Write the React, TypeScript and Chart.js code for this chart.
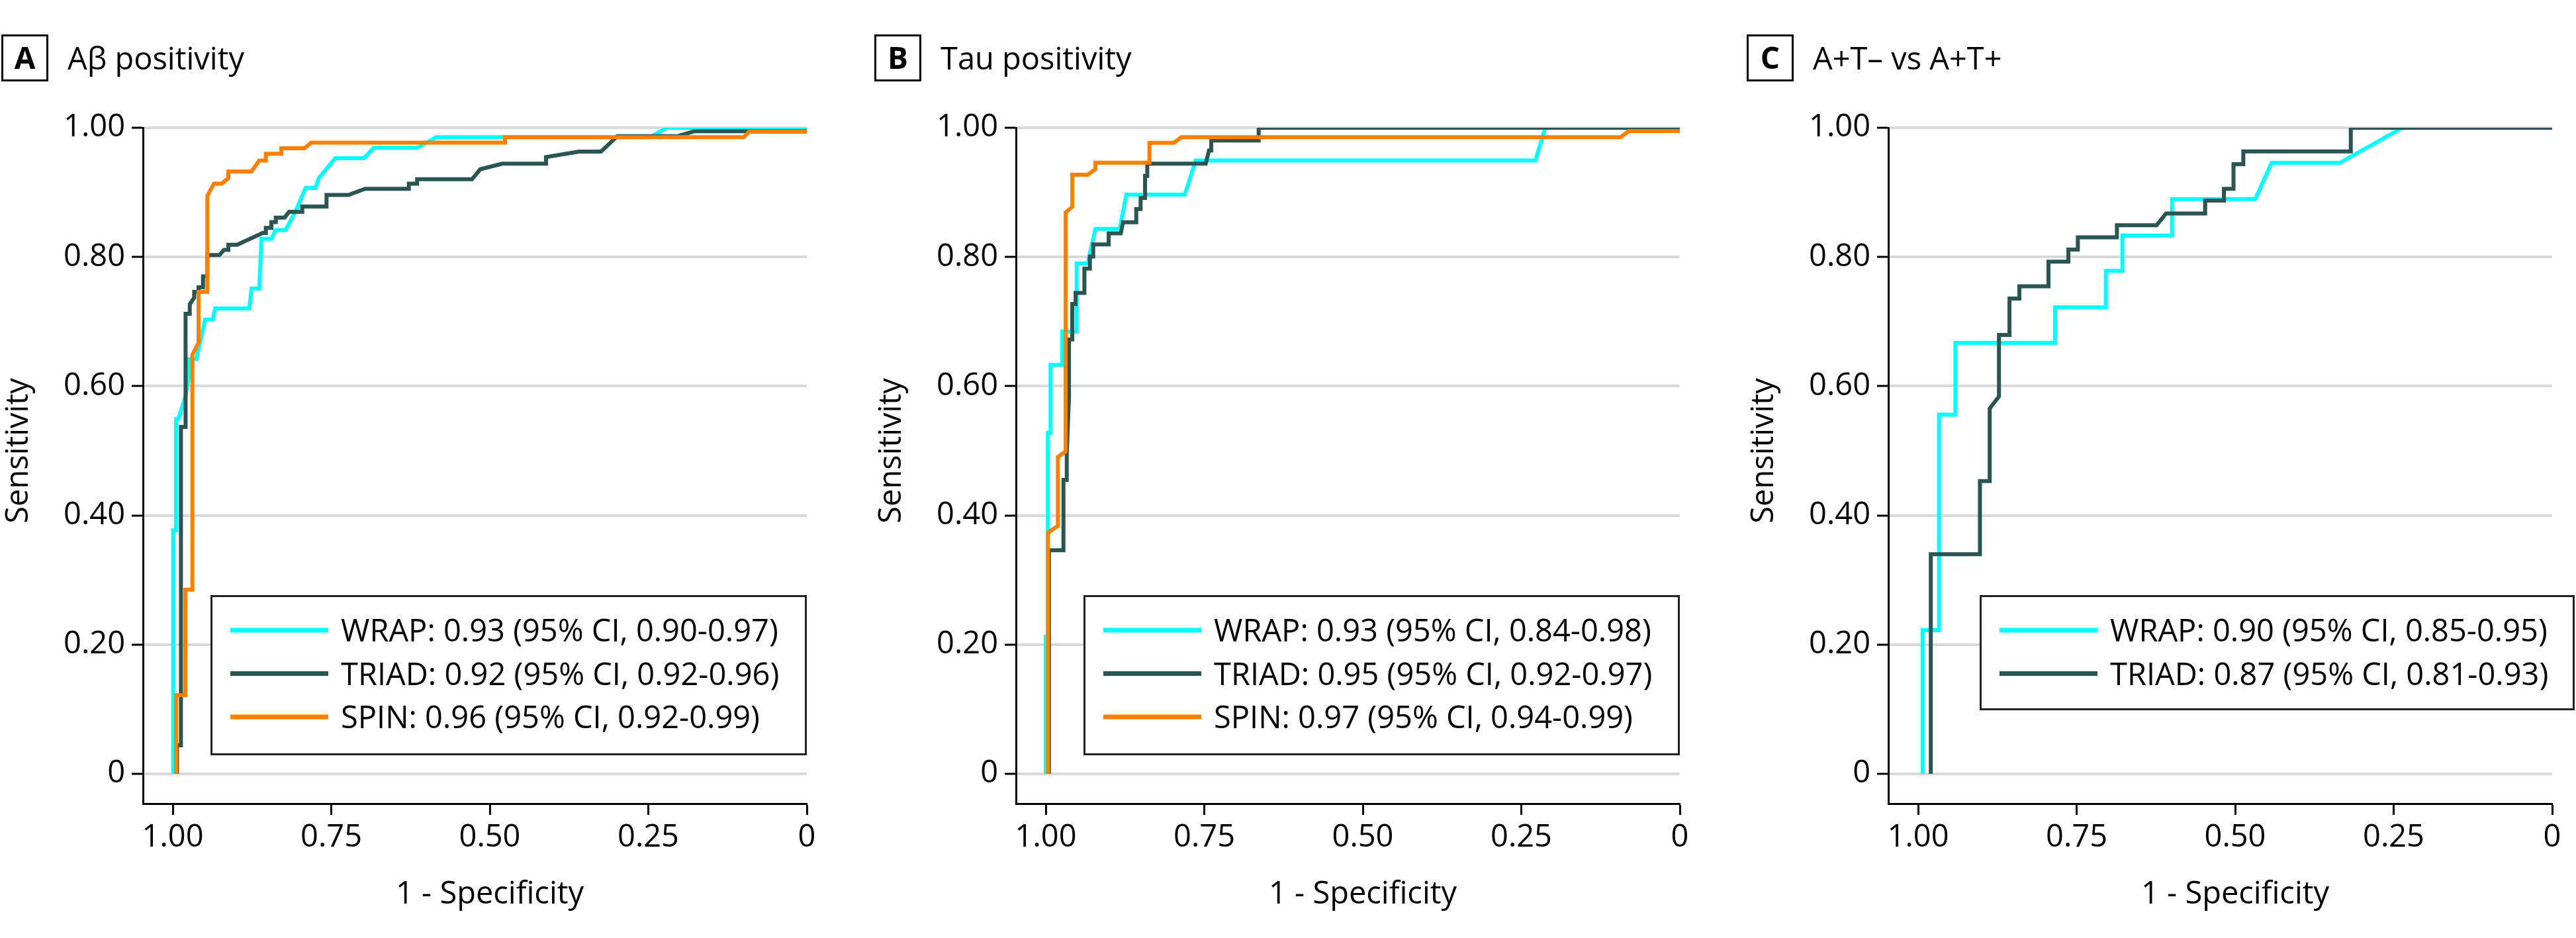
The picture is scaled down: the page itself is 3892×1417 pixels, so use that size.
import React, { useEffect, useRef } from 'react';
import { Chart, registerables } from 'chart.js';

Chart.register(...registerables);

// ---------------- data ----------------
const xTickValues = [1, 0.75, 0.5, 0.25, 0];
const yTickValues = [0, 0.2, 0.4, 0.6, 0.8, 1];
const xAxisTitle = '1 - Specificity';
const yAxisTitle = 'Sensitivity';

const panelLetters = ['A', 'B', 'C'];
const panelTitles = ['A\u03b2 positivity', 'Tau positivity', 'A+T\u2013 vs A+T+'];

const seriesNames = ['WRAP', 'TRIAD', 'SPIN'];
const seriesColors = ['#00FFFF', '#2A5553', '#FF8000'];

// Panel A – Aβ positivity
const wrapA_spec = [0.9993, 0.9993, 0.9948, 0.9948, 0.9913, 0.9802, 0.9739, 0.9739, 0.9628, 0.9489, 0.9367, 0.9332, 0.8793, 0.8758, 0.8636, 0.8601, 0.8445, 0.8375, 0.8219, 0.8062, 0.7905, 0.7749, 0.7697, 0.7436, 0.6983, 0.6827, 0.6146, 0.5843, 0.2468, 0.2208, 0];
const wrapA_sens = [0, 0.377, 0.377, 0.549, 0.549, 0.583, 0.62, 0.642, 0.642, 0.7032, 0.7032, 0.7203, 0.7203, 0.7511, 0.7511, 0.828, 0.828, 0.8417, 0.8417, 0.8708, 0.9067, 0.9067, 0.9221, 0.9528, 0.9528, 0.969, 0.969, 0.9853, 0.9853, 1.0, 1.0];
const triadA_spec = [0.9934, 0.9934, 0.9871, 0.9871, 0.9798, 0.9798, 0.9732, 0.9732, 0.9662, 0.9662, 0.9593, 0.9593, 0.9523, 0.9523, 0.9454, 0.9454, 0.9263, 0.9193, 0.9123, 0.9123, 0.8984, 0.8584, 0.8532, 0.8532, 0.8445, 0.8445, 0.8375, 0.8375, 0.8236, 0.8166, 0.7958, 0.7958, 0.7575, 0.7575, 0.7228, 0.6968, 0.6277, 0.6277, 0.6146, 0.6146, 0.528, 0.5151, 0.4805, 0.4113, 0.4113, 0.3593, 0.3246, 0.2988, 0.2035, 0.1775, 0];
const triadA_sens = [0, 0.044, 0.044, 0.537, 0.537, 0.712, 0.712, 0.727, 0.737, 0.746, 0.746, 0.753, 0.753, 0.77, 0.77, 0.803, 0.803, 0.811, 0.811, 0.819, 0.819, 0.837, 0.837, 0.845, 0.845, 0.854, 0.854, 0.861, 0.861, 0.87, 0.87, 0.878, 0.878, 0.896, 0.896, 0.9056, 0.9056, 0.9135, 0.9135, 0.9203, 0.9203, 0.9357, 0.9443, 0.9443, 0.9545, 0.9631, 0.9631, 0.987, 0.987, 0.9945, 0.9945];
const spinA_spec = [0.9948, 0.9948, 0.9802, 0.9802, 0.969, 0.969, 0.9593, 0.9593, 0.9454, 0.9454, 0.935, 0.9228, 0.9123, 0.9123, 0.8758, 0.8636, 0.8532, 0.8532, 0.8288, 0.8288, 0.7923, 0.7818, 0.4761, 0.4761, 0.0997, 0.091, 0];
const spinA_sens = [0, 0.1216, 0.1216, 0.2851, 0.2851, 0.6486, 0.6674, 0.746, 0.746, 0.8947, 0.9135, 0.9135, 0.9221, 0.9323, 0.9323, 0.9494, 0.9494, 0.9597, 0.9597, 0.9682, 0.9682, 0.977, 0.977, 0.9853, 0.9853, 0.9938, 0.9938];
const legendA = ['WRAP: 0.93 (95% CI, 0.90-0.97)', 'TRIAD: 0.92 (95% CI, 0.92-0.96)', 'SPIN: 0.96 (95% CI, 0.92-0.99)'];

// Panel B – Tau positivity
const wrapB_spec = [1.0, 1.0, 0.9966, 0.9966, 0.9924, 0.9924, 0.9739, 0.9739, 0.9513, 0.9513, 0.9339, 0.9217, 0.8834, 0.873, 0.7808, 0.7634, 0.2277, 0.2121, 0];
const wrapB_sens = [0, 0.212, 0.212, 0.528, 0.528, 0.633, 0.633, 0.6845, 0.6845, 0.79, 0.79, 0.8434, 0.8434, 0.8964, 0.8964, 0.9494, 0.9494, 1.0, 1.0];
const triadB_spec = [0.995, 0.995, 0.9721, 0.9721, 0.9669, 0.9669, 0.9634, 0.9634, 0.9582, 0.9582, 0.953, 0.953, 0.9391, 0.9391, 0.9304, 0.9304, 0.9252, 0.9252, 0.9008, 0.9008, 0.8817, 0.8782, 0.8573, 0.8573, 0.8504, 0.8504, 0.8434, 0.8434, 0.8399, 0.8399, 0.7477, 0.7425, 0.739, 0.739, 0.6642, 0.6642, 0];
const triadB_sens = [0, 0.346, 0.346, 0.455, 0.455, 0.495, 0.583, 0.6725, 0.6725, 0.7272, 0.7272, 0.7443, 0.7443, 0.7819, 0.7819, 0.8007, 0.8007, 0.8195, 0.8195, 0.8366, 0.8366, 0.8537, 0.8537, 0.8742, 0.8742, 0.8913, 0.8913, 0.9255, 0.9255, 0.9443, 0.9443, 0.9648, 0.9648, 0.9802, 0.9802, 1.0, 1.0];
const spinB_spec = [0.9965, 0.9965, 0.9809, 0.9809, 0.9687, 0.9687, 0.9582, 0.9582, 0.9339, 0.9217, 0.9217, 0.8365, 0.8365, 0.7982, 0.786, 0.0935, 0.0805, 0];
const spinB_sens = [0, 0.3733, 0.3836, 0.4905, 0.4989, 0.869, 0.8776, 0.9272, 0.9272, 0.9357, 0.946, 0.946, 0.9768, 0.9768, 0.9853, 0.9853, 0.9948, 0.9948];
const legendB = ['WRAP: 0.93 (95% CI, 0.84-0.98)', 'TRIAD: 0.95 (95% CI, 0.92-0.97)', 'SPIN: 0.97 (95% CI, 0.94-0.99)'];

// Panel C – A+T– vs A+T+
const wrapC_spec = [0.9928, 0.9928, 0.967, 0.967, 0.9412, 0.9412, 0.7839, 0.7839, 0.7039, 0.7039, 0.6778, 0.6778, 0.5995, 0.5995, 0.4682, 0.4424, 0.3349, 0.2359, 0];
const wrapC_sens = [0, 0.2223, 0.2223, 0.5559, 0.5559, 0.6671, 0.6671, 0.7221, 0.7221, 0.7785, 0.7785, 0.8332, 0.8332, 0.8896, 0.8896, 0.9457, 0.9457, 1.0, 1.0];
const triadC_spec = [0.98, 0.98, 0.9025, 0.9025, 0.8871, 0.8871, 0.8725, 0.8725, 0.8559, 0.8559, 0.8403, 0.8403, 0.7944, 0.7944, 0.763, 0.763, 0.7481, 0.7481, 0.6865, 0.6865, 0.6239, 0.6089, 0.5473, 0.5473, 0.5177, 0.5177, 0.5026, 0.5026, 0.4871, 0.4871, 0.3176, 0.3176, 0];
const triadC_sens = [0, 0.34, 0.34, 0.4531, 0.4531, 0.5656, 0.584, 0.6793, 0.6793, 0.7357, 0.7357, 0.7545, 0.7545, 0.7928, 0.7928, 0.8116, 0.8116, 0.8304, 0.8304, 0.8492, 0.8492, 0.8674, 0.8674, 0.8872, 0.8872, 0.9056, 0.9056, 0.9437, 0.9437, 0.9634, 0.9634, 1.0, 1.0];
const legendC = ['WRAP: 0.90 (95% CI, 0.85-0.95)', 'TRIAD: 0.87 (95% CI, 0.81-0.93)'];

// ---------------- layout / style ----------------
const FONT = "'Open Sans', 'Noto Sans', sans-serif";
const FS = 47;
const CANVAS_H = 1417;
const CANVAS_W = 1255;
const PANEL_LEFT = [0, 1319, 2637];
const AREA_LEFT = 216;
const AREA_RIGHT = 1219;
const AREA_TOP = 193;
const AREA_BOTTOM = 1214;
const X_MAX = 1.047;
const Y_MIN = -0.0461;

type Series = { name: string; color: string; spec: number[]; sens: number[]; order: number };

const makeSeries = (i: number, spec: number[], sens: number[]): Series => ({
  name: seriesNames[i],
  color: seriesColors[i],
  spec,
  sens,
  order: i === 2 ? 0 : i === 1 ? 1 : 2,
});

const panels = [
  {
    letter: panelLetters[0],
    title: panelTitles[0],
    series: [makeSeries(0, wrapA_spec, wrapA_sens), makeSeries(1, triadA_spec, triadA_sens), makeSeries(2, spinA_spec, spinA_sens)],
    legend: legendA,
  },
  {
    letter: panelLetters[1],
    title: panelTitles[1],
    series: [makeSeries(0, wrapB_spec, wrapB_sens), makeSeries(1, triadB_spec, triadB_sens), makeSeries(2, spinB_spec, spinB_sens)],
    legend: legendB,
  },
  {
    letter: panelLetters[2],
    title: panelTitles[2],
    series: [makeSeries(0, wrapC_spec, wrapC_sens), makeSeries(1, triadC_spec, triadC_sens)],
    legend: legendC,
  },
];

const fmt = (v: number) => (v === 0 ? '0' : Number(v).toFixed(2));

function decorPlugin(p: (typeof panels)[number]) {
  return {
    id: 'decor',
    afterDraw(chart: any) {
      const ctx: CanvasRenderingContext2D = chart.ctx;
      const xs = chart.scales.x;
      const ys = chart.scales.y;
      ctx.save();
      // panel label box
      ctx.strokeStyle = '#000';
      ctx.lineWidth = 3;
      ctx.strokeRect(3.5, 53.5, 68, 68);
      ctx.fillStyle = '#000';
      ctx.font = `bold 46px ${FONT}`;
      ctx.textAlign = 'center';
      ctx.textBaseline = 'alphabetic';
      ctx.fillText(p.letter, 37.5, 104);
      // panel title
      ctx.font = `${FS}px ${FONT}`;
      ctx.textAlign = 'left';
      ctx.fillText(p.title, 102, 105);
      // x axis title
      const xc = (xs.getPixelForValue(1) + xs.getPixelForValue(0)) / 2;
      ctx.textAlign = 'center';
      ctx.fillText(xAxisTitle, xc, 1365);
      // y axis title
      const yc = (ys.getPixelForValue(0) + ys.getPixelForValue(1)) / 2;
      ctx.save();
      ctx.translate(42, yc);
      ctx.rotate(-Math.PI / 2);
      ctx.fillText(yAxisTitle, 0, 0);
      ctx.restore();

      // legend
      const n = p.legend.length;
      const boxX = n === 3 ? 318 : 354;
      const boxW = n === 3 ? 901 : 899;
      const boxY = 899;
      const boxH = n === 3 ? 242 : 174;
      ctx.fillStyle = '#fff';
      ctx.fillRect(boxX, boxY, boxW, boxH);
      ctx.strokeStyle = '#222';
      ctx.lineWidth = 3;
      ctx.strokeRect(boxX + 1.5, boxY + 1.5, boxW - 3, boxH - 3);
      p.legend.forEach((txt, i) => {
        const ry = boxY + 53 + i * 65.5;
        ctx.strokeStyle = p.series[i].color;
        ctx.lineWidth = 7;
        ctx.beginPath();
        ctx.moveTo(boxX + 30, ry);
        ctx.lineTo(boxX + 178, ry);
        ctx.stroke();
        ctx.fillStyle = '#000';
        ctx.font = `${FS}px ${FONT}`;
        ctx.textAlign = 'left';
        ctx.textBaseline = 'alphabetic';
        ctx.fillText(txt, boxX + 197, ry + 17);
      });
      ctx.restore();
    },
  };
}

function ROCPanel({ idx }: { idx: number }) {
  const ref = useRef<HTMLCanvasElement | null>(null);
  useEffect(() => {
    const p = panels[idx];
    const canvas = ref.current;
    if (!canvas) return;
    const chart = new Chart(canvas, {
      type: 'line',
      data: {
        datasets: p.series.map((s) => ({
          label: s.name,
          data: s.spec.map((x, i) => ({ x, y: s.sens[i] })),
          borderColor: s.color,
          backgroundColor: s.color,
          borderWidth: 6,
          pointRadius: 0,
          tension: 0,
          fill: false,
          order: s.order,
          borderJoinStyle: 'miter',
          borderCapStyle: 'butt',
        })),
      },
      options: {
        responsive: false,
        animation: false,
        devicePixelRatio: 1,
        layout: { padding: { left: 0, top: AREA_TOP, right: CANVAS_W - AREA_RIGHT, bottom: 0 } },
        plugins: {
          legend: { display: false },
          tooltip: { enabled: false },
          title: { display: false },
        },
        scales: {
          x: {
            type: 'linear',
            reverse: true,
            min: 0,
            max: X_MAX,
            afterBuildTicks: (s: any) => {
              s.ticks = xTickValues.map((v) => ({ value: v }));
            },
            afterFit: (s: any) => {
              s.height = CANVAS_H - AREA_BOTTOM;
            },
            ticks: {
              callback: (v: any) => fmt(Number(v)),
              font: { family: FONT, size: FS },
              color: '#000',
              padding: 6,
              maxRotation: 0,
              autoSkip: false,
            },
            grid: { drawOnChartArea: false, drawTicks: true, tickLength: 17, tickColor: '#000', tickWidth: 3 },
            border: { display: true, color: '#000', width: 3 },
          },
          y: {
            type: 'linear',
            min: Y_MIN,
            max: 1,
            afterBuildTicks: (s: any) => {
              s.ticks = yTickValues.map((v) => ({ value: v }));
            },
            afterFit: (s: any) => {
              s.width = AREA_LEFT;
            },
            ticks: {
              callback: (v: any) => fmt(Number(v)),
              font: { family: FONT, size: FS },
              color: '#000',
              padding: 10,
              autoSkip: false,
            },
            grid: { color: '#d9d9d9', lineWidth: 4, drawTicks: true, tickLength: 17, tickColor: '#000', tickWidth: 3 },
            border: { display: true, color: '#000', width: 3 },
          },
        },
      } as any,
      plugins: [decorPlugin(p)],
    });
    return () => chart.destroy();
  }, [idx]);
  return (
    <canvas
      ref={ref}
      width={CANVAS_W}
      height={CANVAS_H}
      style={{ position: 'absolute', left: PANEL_LEFT[idx], top: 0, width: CANVAS_W, height: CANVAS_H }}
    />
  );
}

export default function App() {
  return (
    <div style={{ position: 'absolute', left: 0, top: 0, width: 3892, height: 1417, background: '#fff', overflow: 'hidden' }}>
      {panels.map((_, i) => (
        <ROCPanel key={i} idx={i} />
      ))}
    </div>
  );
}
